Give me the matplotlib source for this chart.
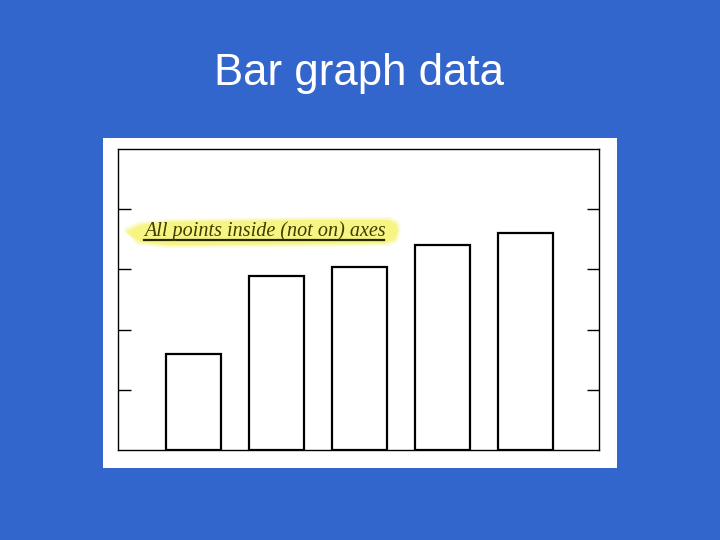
import matplotlib
matplotlib.use("Agg")
import matplotlib.pyplot as plt
from matplotlib.patches import Rectangle, Polygon
import numpy as np

# data
categories = [1, 2, 3, 4, 5]
values = [1.59, 2.89, 3.04, 3.40, 3.60]
yticks = [1, 2, 3, 4]

W, H = 720, 540
fig = plt.figure(figsize=(7.2, 5.4), dpi=100)
fig.patch.set_facecolor("#3366CC")

# white panel
panel = Rectangle((103 / W, 1 - 468 / H), 514 / W, 330 / H,
                  transform=fig.transFigure, facecolor="white",
                  edgecolor="none", zorder=-1)
fig.patches.append(panel)

fig.text(359 / W, 1 - 85 / H, "Bar graph data", color="white",
         fontsize=31.5, family="Liberation Sans", ha="center", va="baseline")

ax = fig.add_axes([118 / W, 1 - 450 / H, 481 / W, 301 / H])
ax.set_zorder(1)
ax.set_facecolor("white")
ax.bar(categories, values, width=0.66, facecolor="white", edgecolor="black",
       linewidth=1.6, zorder=3)
ax.set_xlim(0.09, 5.89)
ax.set_ylim(0, 5)
ax.set_xticks([])
ax.set_yticks(yticks)
ax.set_yticklabels([])
ax.tick_params(axis="y", direction="in", length=9, width=1, left=True, right=True,
               color="black")
for s in ax.spines.values():
    s.set_linewidth(1)
    s.set_color("black")

# highlight annotation (in figure pixels)
def fp(x, y):
    return (x / W, 1 - y / H)

base = np.array([(126, 232), (140, 225), (170, 222), (300, 220), (388, 220),
                 (396, 224), (398, 231), (395, 239), (385, 243), (300, 244),
                 (170, 245), (140, 242)])
c = base.mean(axis=0)
for grow, a in [(3.0, 0.25), (1.5, 0.4), (0.0, 0.85)]:
    d = base - c
    n = d / np.maximum(np.abs(d), 1e-6)
    pts = base + n * grow * np.array([1.0, 1.0])
    poly = Polygon([fp(x, y) for x, y in pts], closed=True,
                   transform=fig.transFigure, facecolor="#f6f47a",
                   edgecolor="none", alpha=a, zorder=5)
    fig.patches.append(poly)

fig.text(144 / W, 1 - 236 / H, "All points inside (not on) axes",
         family="Liberation Serif", style="italic", fontsize=14.5,
         color="#3f3c00", ha="left", va="baseline", zorder=6)
fig.lines.append(plt.Line2D([144 / W, 384 / W], [1 - 239.5 / H, 1 - 239.5 / H],
                            transform=fig.transFigure, color="#2a2800",
                            linewidth=1.6, zorder=6))

fig.savefig("out.png", dpi=100, facecolor=fig.get_facecolor())
